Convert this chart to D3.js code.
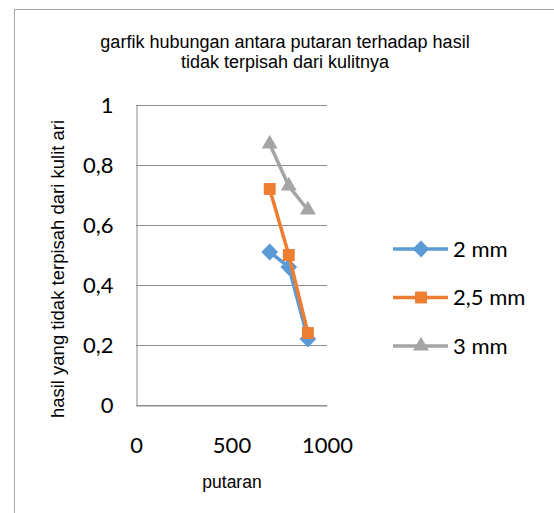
<!DOCTYPE html>
<html>
<head>
<meta charset="utf-8">
<script src="https://cdn.jsdelivr.net/npm/d3@7"></script>
<style>
  body { margin: 0; background: #fff; }
  svg { display: block; }
</style>
</head>
<body>
<div id="chart"></div>
<script>
var width = 554,
    height = 513

// data
var putaran = [700, 800, 900]
var seriesNames = ["2 mm", "2,5 mm", "3 mm"]
var hasil2mm = [0.51, 0.46, 0.22]
var hasil25mm = [0.72, 0.50, 0.24]
var hasil3mm = [0.87, 0.73, 0.65]
var yTicks = [0, 0.2, 0.4, 0.6, 0.8, 1]
var xTicks = [0, 500, 1000]

var colors = ["#5b9bd5", "#ed7d31", "#a5a5a5"]
var shapes = [d3.symbolDiamond2, d3.symbolSquare2, d3.symbolTriangle2]

var series = [hasil2mm, hasil25mm, hasil3mm].map(function(vals, i) {
  return {
    name: seriesNames[i],
    color: colors[i],
    shape: shapes[i],
    points: vals.map(function(v, j) { return {x: putaran[j], y: v} })
  }
})

var svg = d3.select("#chart")
  .append("svg")
    .attr("width", width)
    .attr("height", height)

// chart frame (only top and left edge are visible in the crop)
svg.append("line")
  .attr("x1", 14).attr("x2", width).attr("y1", 9.5).attr("y2", 9.5)
  .attr("stroke", "#a6a6a6").attr("stroke-width", 1)
svg.append("line")
  .attr("x1", 14.5).attr("x2", 14.5).attr("y1", 9).attr("y2", height)
  .attr("stroke", "#a6a6a6").attr("stroke-width", 1)

// title
var title = svg.append("text")
  .attr("text-anchor", "middle")
  .style("font-family", "'Liberation Sans', Arial, sans-serif")
  .style("font-size", "18px")
  .attr("fill", "#000")
title.append("tspan").attr("x", 285).attr("y", 48).text("garfik hubungan antara putaran terhadap hasil")
title.append("tspan").attr("x", 285).attr("y", 68).text("tidak terpisah dari kulitnya")

var x = d3.scaleLinear().domain([0, 1000]).range([136, 327])
var y = d3.scaleLinear().domain([0, 1]).range([405, 105])

// gridlines
svg.append("g")
  .selectAll("line")
  .data(yTicks)
  .enter()
  .append("line")
    .attr("x1", x(0)).attr("x2", x(1000))
    .attr("y1", function(d) { return Math.round(y(d)) + 0.5 })
    .attr("y2", function(d) { return Math.round(y(d)) + 0.5 })
    .attr("stroke", "#8c8c8c")
    .attr("stroke-width", 1)

// y axis
var yAxis = svg.append("g")
  .attr("transform", "translate(" + (x(0) + 0.5) + ",0.5)")
  .call(d3.axisLeft(y).tickValues(yTicks).tickSize(0).tickPadding(23)
    .tickFormat(function(d) { return String(d).replace(".", ",") }))
yAxis.select(".domain").attr("stroke", "#8c8c8c")
yAxis.selectAll("text")
  .style("font-family", "Lato, 'Open Sans', sans-serif")
  .style("font-size", "22px")
  .attr("fill", "#000")

// x axis (no line, only labels)
var xAxis = svg.append("g")
  .attr("transform", "translate(0," + (y(0) + 0.5) + ")")
  .call(d3.axisBottom(x).tickValues(xTicks).tickSize(0).tickPadding(32)
    .tickFormat(d3.format("d")))
xAxis.select(".domain").attr("stroke", "#8c8c8c")
xAxis.selectAll("text")
  .style("font-family", "Lato, 'Open Sans', sans-serif")
  .style("font-size", "22px")
  .attr("fill", "#000")

// axis titles
svg.append("text")
  .attr("x", 232).attr("y", 488)
  .attr("text-anchor", "middle")
  .style("font-family", "'Liberation Sans', Arial, sans-serif")
  .style("font-size", "17.5px")
  .text("putaran")

svg.append("text")
  .attr("transform", "translate(64,269) rotate(-90)")
  .attr("text-anchor", "middle")
  .style("font-family", "'Liberation Sans', Arial, sans-serif")
  .style("font-size", "18.5px")
  .text("hasil yang tidak terpisah dari kulit ari")

// lines and markers
var line = d3.line()
  .x(function(d) { return x(d.x) })
  .y(function(d) { return y(d.y) })

var sym = d3.symbol().size(180)

var groups = svg.selectAll("g.series")
  .data(series)
  .enter()
  .append("g")
    .attr("class", "series")

groups.append("path")
  .attr("d", function(d) { return line(d.points) })
  .attr("fill", "none")
  .attr("stroke", function(d) { return d.color })
  .attr("stroke-width", 3.5)

groups.selectAll("path.marker")
  .data(function(d) { return d.points.map(function(p) { return {p: p, s: d} }) })
  .enter()
  .append("path")
    .attr("class", "marker")
    .attr("transform", function(d) { return "translate(" + x(d.p.x) + "," + y(d.p.y) + ")" })
    .attr("d", function(d) { return sym.type(d.s.shape)() })
    .attr("fill", function(d) { return d.s.color })

// legend
var legend = svg.selectAll("g.legend")
  .data(series)
  .enter()
  .append("g")
    .attr("class", "legend")
    .attr("transform", function(d, i) { return "translate(393," + (249 + i * 48.5) + ")" })

legend.append("line")
  .attr("x1", 0).attr("x2", 55)
  .attr("stroke", function(d) { return d.color })
  .attr("stroke-width", 3.5)

legend.append("path")
  .attr("transform", "translate(28,0)")
  .attr("d", function(d) { return sym.type(d.shape)() })
  .attr("fill", function(d) { return d.color })

legend.append("text")
  .attr("x", 60).attr("y", 0).attr("dy", "0.35em")
  .style("font-family", "Lato, 'Open Sans', sans-serif")
  .style("font-size", "22px")
  .text(function(d) { return d.name })
</script>
</body>
</html>
